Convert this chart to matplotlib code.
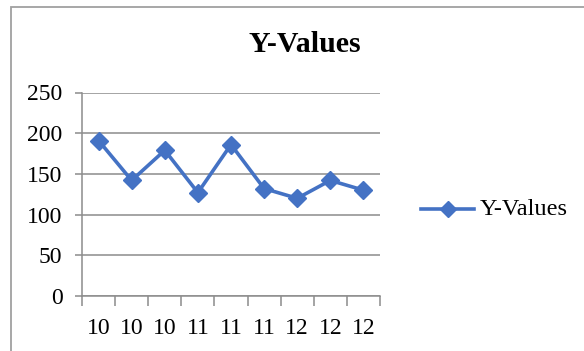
import matplotlib.pyplot as plt
import matplotlib.patches as patches
import numpy as np

x_labels = ["10", "10", "10", "11", "11", "11", "12", "12", "12"]
y_values = [191, 142, 179, 127, 186, 132, 120, 142, 130]
series_name = "Y-Values"

line_color = "#4472C4"
grid_color = "#8C8C8C"

plt.rcParams['font.family'] = ['Liberation Serif', 'DejaVu Serif']

W, H = 584, 351
fig = plt.figure(figsize=(W / 100, H / 100), dpi=100)

# plot area in pixel coords
left, right, top, bottom = 82, 380, 92.5, 296
ax = fig.add_axes([left / W, 1 - bottom / H, (right - left) / W, (bottom - top) / H])

pos = np.arange(len(y_values))
line, = ax.plot(pos, y_values, color=line_color, lw=2.6, marker='D', ms=9,
                markeredgecolor=line_color, markerfacecolor=line_color, zorder=3)

ax.set_xlim(-0.5, len(y_values) - 0.5)
ax.set_ylim(0, 250)
ax.set_yticks(np.arange(0, 251, 50))
ax.yaxis.grid(True, color=grid_color, lw=1.1)
ax.set_axisbelow(True)

# category axis: ticks between categories, labels centered
ax.set_xticks(pos)
ax.set_xticklabels(x_labels)
ax.set_xticks(np.arange(-0.5, len(y_values)), minor=True)
ax.tick_params(axis='x', which='major', length=0, labelsize=17, pad=16)
ax.tick_params(axis='x', which='minor', length=7, width=1.1, color=grid_color, direction='out')
ax.tick_params(axis='y', length=5, width=1.1, color=grid_color, labelsize=17, pad=9)

for side in ['top', 'right']:
    ax.spines[side].set_visible(False)
for side in ['left', 'bottom']:
    ax.spines[side].set_color(grid_color)
    ax.spines[side].set_linewidth(1.1)

fig.text(305 / W, 1 - 44 / H, series_name, ha='center', va='center',
         fontsize=21.5, fontweight='bold')

# legend entry drawn at right
lx0, lx1, ly = 421 / W, 474 / W, 1 - 209.5 / H
fig.add_artist(plt.Line2D([lx0, lx1], [ly, ly], color=line_color, lw=2.6,
                          transform=fig.transFigure))
fig.add_artist(plt.Line2D([(lx0 + lx1) / 2], [ly], color=line_color, marker='D', ms=8,
                          transform=fig.transFigure))
fig.text(480 / W, ly, series_name, ha='left', va='center', fontsize=17.5)

# chart border
fig.add_artist(patches.Rectangle((10.5 / W, -0.1), 1.2, 1.1 - 6.5 / H, fill=False,
                                 edgecolor='#A0A0A0', lw=1.3, transform=fig.transFigure))

fig.savefig('out.png', dpi=100)
